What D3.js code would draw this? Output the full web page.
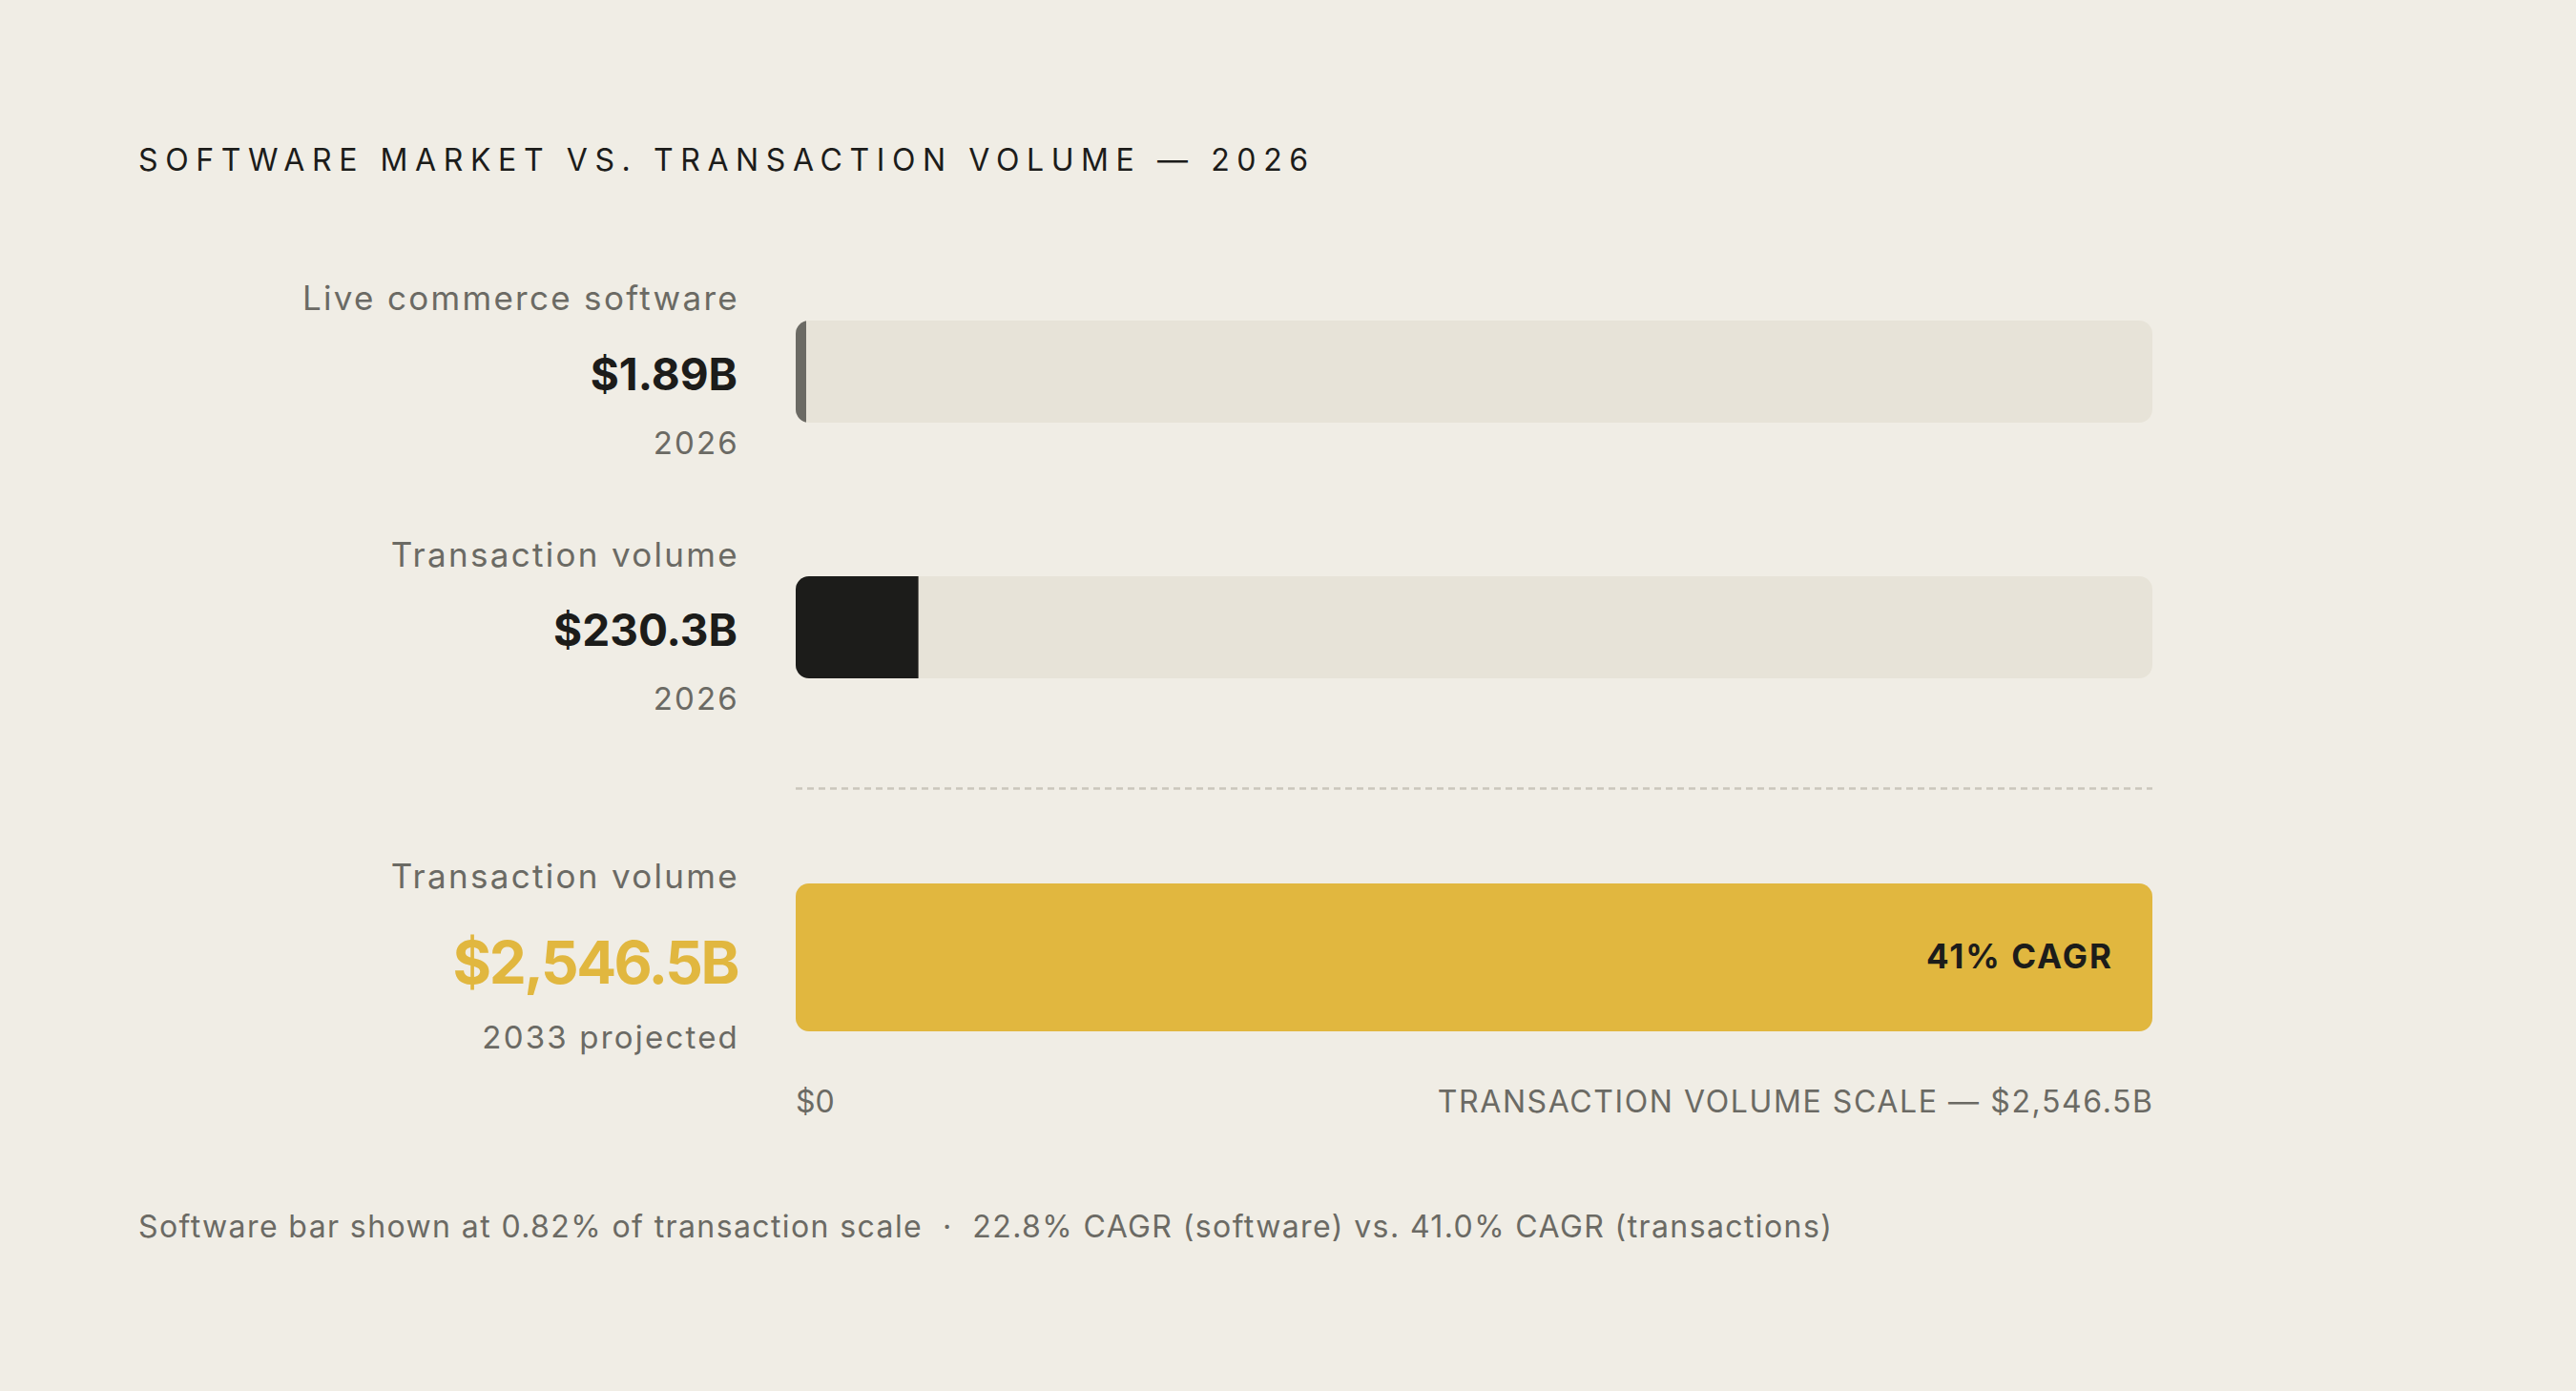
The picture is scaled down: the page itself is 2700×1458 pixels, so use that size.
<!DOCTYPE html>
<html>
<head>
<meta charset="utf-8">
<script src="https://cdn.jsdelivr.net/npm/d3@7"></script>
<style>
  html, body { margin: 0; padding: 0; background: #F0EDE5; }
  svg { display: block; font-family: Inter, "Noto Sans", sans-serif; }
</style>
</head>
<body>
<svg id="chart" width="2700" height="1458"></svg>
<script>
// 데이터
const rowLabels = ["Live commerce software", "Transaction volume", "Transaction volume"];
const rowValues = [1.89, 230.3, 2546.5];
const valueLabels = ["$1.89B", "$230.3B", "$2,546.5B"];
const periodLabels = ["2026", "2026", "2033 projected"];
const scaleMax = 2546.5;
const axisLabels = ["$0", "TRANSACTION VOLUME SCALE — $2,546.5B"];
const cagrLabel = "41% CAGR";
const titleText = "SOFTWARE MARKET VS. TRANSACTION VOLUME — 2026";
const footText = "Software bar shown at 0.82% of transaction scale  ·  22.8% CAGR (software) vs. 41.0% CAGR (transactions)";

const svg = d3.select("#chart");
const C = { bg: "#F0EDE5", track: "#E7E3D8", ink: "#1C1C1A", grey: "#6B6A64", gold: "#E1B73F", rule: "#CAC6BC" };

const x = d3.scaleLinear().domain([0, scaleMax]).range([834, 2256]);
const labelX = 773;

// 행 배치 (상단, 높이, 라벨 기준선)
const rows = [
  { top: 336, h: 107, fill: C.grey, valColor: C.ink, valSize: 46, valLs: 0, lab: 325, val: 409, per: 476 },
  { top: 604, h: 107, fill: C.ink, valColor: C.ink, valSize: 46, valLs: 0, lab: 594, val: 677, per: 744 },
  { top: 926, h: 155, fill: C.gold, valColor: C.gold, valSize: 62, valLs: -2.5, lab: 931, val: 1031, per: 1099 }
];

svg.append("rect").attr("width", 2700).attr("height", 1458).attr("fill", C.bg);

svg.append("text")
  .attr("x", 145).attr("y", 179)
  .attr("font-size", 32).attr("letter-spacing", 7.6)
  .attr("fill", C.ink)
  .text(titleText);

const defs = svg.append("defs");
const radius = 14;

rows.forEach((r, i) => {
  defs.append("clipPath").attr("id", "clip" + i)
    .append("rect")
    .attr("x", x(0)).attr("y", r.top)
    .attr("width", x(scaleMax) - x(0)).attr("height", r.h)
    .attr("rx", radius);

  svg.append("rect")
    .attr("x", x(0)).attr("y", r.top)
    .attr("width", x(scaleMax) - x(0)).attr("height", r.h)
    .attr("rx", radius).attr("fill", C.track);

  // 작은 값은 최소 너비로 표시
  const w = Math.max(x(rowValues[i]) - x(0), 11);
  svg.append("g").attr("clip-path", `url(#clip${i})`)
    .append("rect")
    .attr("x", x(0)).attr("y", r.top)
    .attr("width", w).attr("height", r.h)
    .attr("fill", r.fill);

  svg.append("text")
    .attr("x", labelX + 2).attr("y", r.lab)
    .attr("text-anchor", "end").attr("font-size", 35)
    .attr("fill", C.grey).attr("letter-spacing", 2.3)
    .text(rowLabels[i]);

  svg.append("text")
    .attr("x", labelX).attr("y", r.val)
    .attr("text-anchor", "end").attr("font-size", r.valSize)
    .attr("font-weight", 700).attr("fill", r.valColor)
    .attr("letter-spacing", r.valLs)
    .text(valueLabels[i]);

  svg.append("text")
    .attr("x", labelX + 2).attr("y", r.per)
    .attr("text-anchor", "end").attr("font-size", 33)
    .attr("fill", C.grey).attr("letter-spacing", 2.2)
    .text(periodLabels[i]);
});

// 구분선
svg.append("line")
  .attr("x1", x(0)).attr("x2", x(scaleMax))
  .attr("y1", 826.5).attr("y2", 826.5)
  .attr("stroke", C.rule).attr("stroke-width", 2.5)
  .attr("stroke-dasharray", "7,5");

svg.append("text")
  .attr("x", x(scaleMax) - 41).attr("y", 1015)
  .attr("text-anchor", "end").attr("font-size", 35)
  .attr("font-weight", 700).attr("fill", C.ink)
  .attr("letter-spacing", 2)
  .text(cagrLabel);

svg.append("text")
  .attr("x", x(0)).attr("y", 1166)
  .attr("font-size", 32).attr("fill", C.grey)
  .text(axisLabels[0]);

svg.append("text")
  .attr("x", x(scaleMax) + 1.6).attr("y", 1166)
  .attr("text-anchor", "end").attr("font-size", 32)
  .attr("fill", C.grey).attr("letter-spacing", 1.6)
  .text(axisLabels[1]);

svg.append("text")
  .attr("x", 145).attr("y", 1297)
  .attr("font-size", 32).attr("fill", C.grey)
  .attr("letter-spacing", 1.4)
  .attr("xml:space", "preserve").style("white-space", "pre")
  .text(footText);
</script>
</body>
</html>
